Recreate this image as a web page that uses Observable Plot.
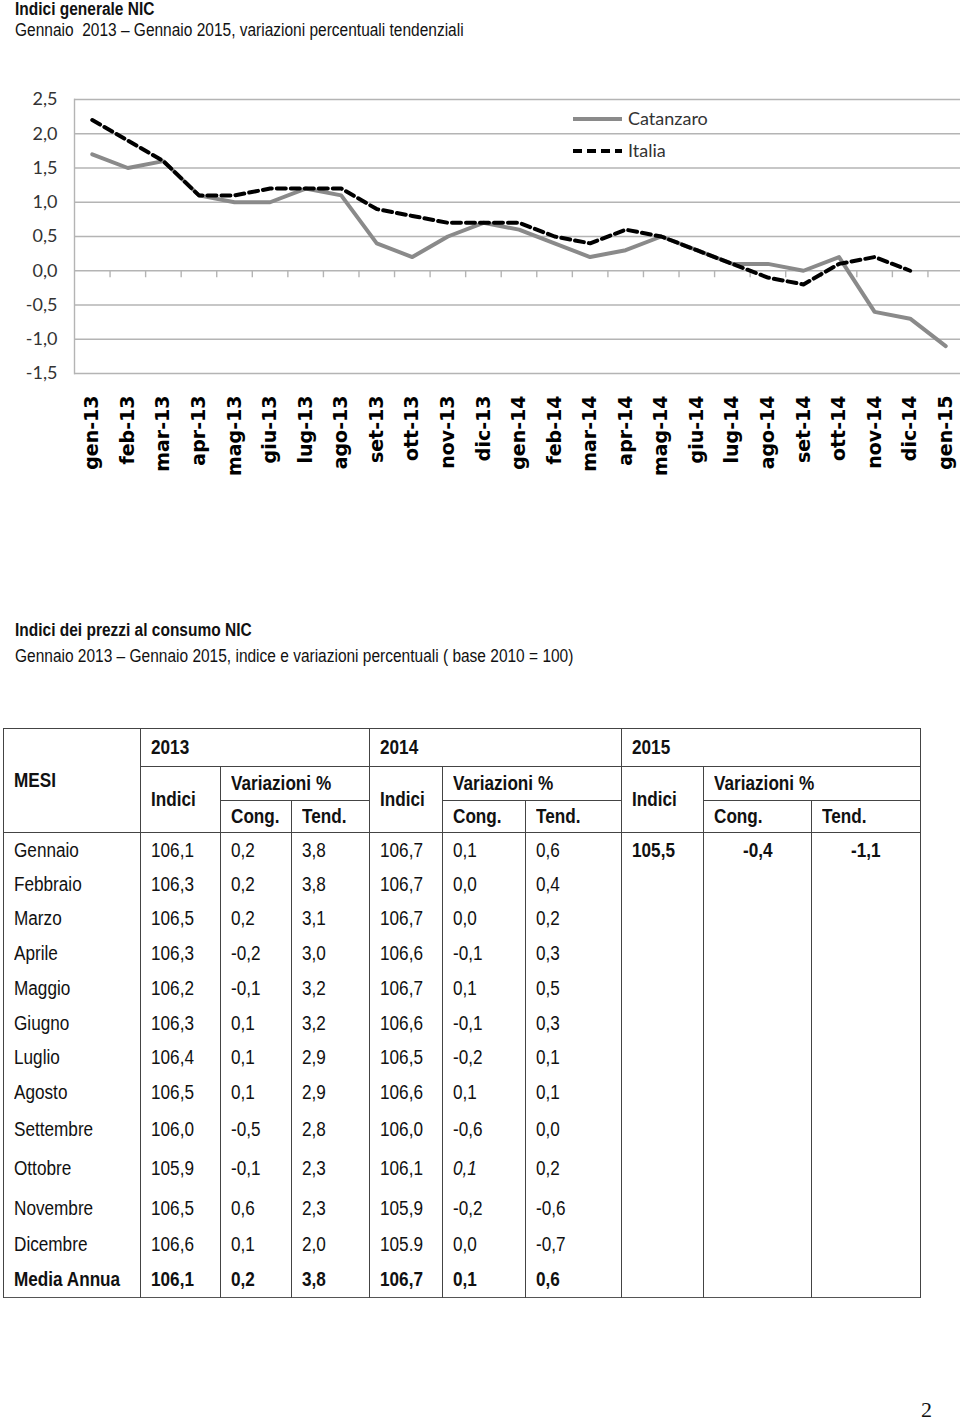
<!DOCTYPE html>
<html><head><meta charset="utf-8">
<script src="https://cdn.jsdelivr.net/npm/d3@7"></script>
<script src="https://cdn.jsdelivr.net/npm/@observablehq/plot@0.6"></script>
<style>
html,body{margin:0;padding:0;background:#fff;}
body{width:960px;height:1420px;position:relative;overflow:hidden;font-family:"Liberation Sans",Arial,sans-serif;color:#111;}
.t{position:absolute;left:15px;white-space:nowrap;line-height:1;font-size:17.5px;transform:scaleX(0.885);transform-origin:left center;}
.b{font-weight:bold;}
#chart{position:absolute;left:0;top:60px;}
#legend{position:absolute;left:565px;top:100px;}
#tbl{position:absolute;left:3px;top:728px;border-collapse:collapse;table-layout:fixed;width:917px;font-size:19.5px;}
#tbl td{border-left:1px solid #444;border-right:1px solid #444;padding:0 0 0 10px;white-space:nowrap;vertical-align:middle;overflow:visible;}
#tbl thead td{border:1px solid #444;font-weight:bold;}
#tbl{border:1.5px solid #555;}
#tbl tbody tr.last td{font-weight:bold;}
#tbl td.c{text-align:center;padding:0;}
#tbl span{display:inline-block;transform:scaleX(0.88);transform-origin:left center;}
#tbl td.c span{transform-origin:center center;}
#pg{position:absolute;left:921px;top:1399px;font-family:"Liberation Serif","Times New Roman",serif;font-size:22px;line-height:1;}
</style></head><body>
<div class="t b" style="top:1px">Indici generale NIC</div>
<div class="t" style="top:22px">Gennaio&nbsp; 2013 – Gennaio 2015, variazioni percentuali tendenziali</div>
<div id="chart"></div>
<div id="legend"></div>
<div class="t b" style="top:622px">Indici dei prezzi al consumo NIC</div>
<div class="t" style="top:648px">Gennaio 2013 – Gennaio 2015, indice e variazioni percentuali ( base 2010 = 100)</div>
<table id="tbl"></table>
<div id="pg">2</div>
<script>
// ---- chart data ----
const months = ["gen-13","feb-13","mar-13","apr-13","mag-13","giu-13","lug-13","ago-13","set-13","ott-13","nov-13","dic-13",
  "gen-14","feb-14","mar-14","apr-14","mag-14","giu-14","lug-14","ago-14","set-14","ott-14","nov-14","dic-14","gen-15"];
const catanzaro = [1.7,1.5,1.6,1.1,1.0,1.0,1.2,1.1,0.4,0.2,0.5,0.7,0.6,0.4,0.2,0.3,0.5,0.3,0.1,0.1,0.0,0.2,-0.6,-0.7,-1.1];
const italia = [2.2,1.9,1.6,1.1,1.1,1.2,1.2,1.2,0.9,0.8,0.7,0.7,0.7,0.5,0.4,0.6,0.5,0.3,0.1,-0.1,-0.2,0.1,0.2,0.0];
const yTicks = [-1.5,-1.0,-0.5,0.0,0.5,1.0,1.5,2.0,2.5];
const seriesNames = ["Catanzaro","Italia"];

// ---- table data ----
const mesi = ["Gennaio","Febbraio","Marzo","Aprile","Maggio","Giugno","Luglio","Agosto","Settembre","Ottobre","Novembre","Dicembre","Media Annua"];
const indici2013 = ["106,1","106,3","106,5","106,3","106,2","106,3","106,4","106,5","106,0","105,9","106,5","106,6","106,1"];
const cong2013 = ["0,2","0,2","0,2","-0,2","-0,1","0,1","0,1","0,1","-0,5","-0,1","0,6","0,1","0,2"];
const tend2013 = ["3,8","3,8","3,1","3,0","3,2","3,2","2,9","2,9","2,8","2,3","2,3","2,0","3,8"];
const indici2014 = ["106,7","106,7","106,7","106,6","106,7","106,6","106,5","106,6","106,0","106,1","105,9","105.9","106,7"];
const cong2014 = ["0,1","0,0","0,0","-0,1","0,1","-0,1","-0,2","0,1","-0,6","0,1","-0,2","0,0","0,1"];
const tend2014 = ["0,6","0,4","0,2","0,3","0,5","0,3","0,1","0,1","0,0","0,2","-0,6","-0,7","0,6"];
const indici2015 = ["105,5"];
const cong2015 = ["-0,4"];
const tend2015 = ["-1,1"];
const anni = ["2013","2014","2015"];

const rows = months.map((m, i) => ({i, m, cz: catanzaro[i], it: italia[i]}));
const fmt = d => d.toFixed(1).replace(".", ",");

const plot = Plot.plot({
  width: 960, height: 423,
  marginTop: 39, marginBottom: 110, marginLeft: 74, marginRight: -3,
  x: {type: "linear", domain: [-0.5, months.length - 0.5], axis: null},
  y: {domain: [d3.min(yTicks), d3.max(yTicks)], axis: null},
  style: {background: "transparent", overflow: "visible"},
  marks: [
    Plot.ruleY(yTicks, {stroke: "#b4b4b4", strokeWidth: 1.4}),
    Plot.frame({anchor: "left", stroke: "#b4b4b4", strokeWidth: 1.4}),
    Plot.ruleX(d3.range(0.5, months.length - 1), {y1: 0, y2: 0, insetBottom: -7, stroke: "#b4b4b4", strokeWidth: 1.4}),
    Plot.axisY(yTicks, {tickFormat: fmt, tickSize: 0, tickPadding: 17, fontSize: 18, fontFamily: "Lato, 'Open Sans', sans-serif", fill: "#333", label: null}),
    Plot.axisX(rows.map(d => d.i), {tickFormat: i => months[i], tickRotate: -90, tickSize: 0, tickPadding: 22, fontSize: 19, fontWeight: "bold", fontFamily: "'DejaVu Sans', sans-serif", fill: "#000", label: null}),
    Plot.line(rows, {x: "i", y: "cz", stroke: "#8a8a8a", strokeWidth: 4}),
    Plot.line(rows.filter(d => d.it !== undefined), {x: "i", y: "it", stroke: "#000", strokeWidth: 4, strokeDasharray: "9,5"})
  ]
});
document.getElementById("chart").appendChild(plot);

// legend
const lg = d3.select("#legend").append("svg").attr("width", 200).attr("height", 70)
  .style("font-family", "Lato, 'Open Sans', sans-serif").style("font-size", "18px");
const styles = [{stroke: "#8a8a8a", dash: null}, {stroke: "#000", dash: "9,5"}];
seriesNames.forEach((n, k) => {
  const y = 19 + k * 32;
  lg.append("line").attr("x1", 8).attr("x2", 57).attr("y1", y).attr("y2", y)
    .attr("stroke", styles[k].stroke).attr("stroke-width", 4).attr("stroke-dasharray", styles[k].dash);
  lg.append("text").attr("x", 63).attr("y", y).attr("dy", "0.35em").attr("fill", "#333").text(n);
});

// table
const tbl = d3.select("#tbl");
const cg = tbl.append("colgroup");
[137,80,71,78,73,83,96,82,108,109].forEach(w => cg.append("col").attr("width", w));
const cell = (tr, txt) => { const td = tr.append("td"); td.append("span").text(txt); return td; };
const th = tbl.append("thead");
const r1 = th.append("tr").style("height", "38px");
cell(r1, "MESI").attr("rowspan", 3);
anni.forEach(a => cell(r1, a).attr("colspan", 3));
const r2 = th.append("tr").style("height", "34px");
anni.forEach(() => { cell(r2, "Indici").attr("rowspan", 2); cell(r2, "Variazioni %").attr("colspan", 2); });
const r3 = th.append("tr").style("height", "32px");
anni.forEach(() => { cell(r3, "Cong."); cell(r3, "Tend."); });
const tb = tbl.append("tbody");
const heights = [34.5,34.5,34.5,35,35,34.5,34.5,35,38,41,38,35,35.5];
mesi.forEach((m, i) => {
  const tr = tb.append("tr").style("height", heights[i] + "px").classed("last", i === mesi.length - 1);
  cell(tr, m);
  cell(tr, indici2013[i]);
  cell(tr, cong2013[i]);
  cell(tr, tend2013[i]);
  cell(tr, indici2014[i]);
  cell(tr, cong2014[i]).style("font-style", i === 9 ? "italic" : null);
  cell(tr, tend2014[i]);
  cell(tr, indici2015[i] || "").style("font-weight", "bold");
  cell(tr, cong2015[i] || "").attr("class", "c").style("font-weight", "bold");
  cell(tr, tend2015[i] || "").attr("class", "c").style("font-weight", "bold");
});
</script>
</body></html>
